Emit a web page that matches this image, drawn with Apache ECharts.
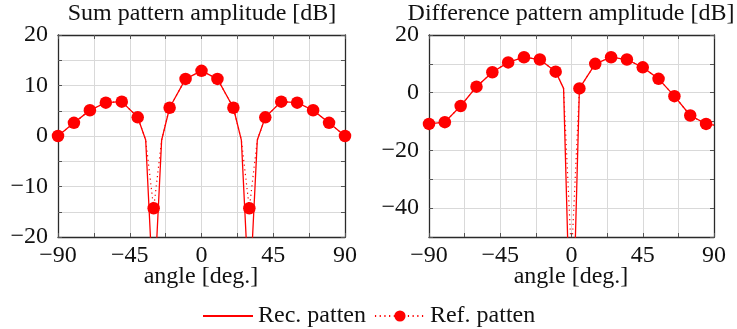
<!DOCTYPE html>
<html>
<head>
<meta charset="utf-8">
<script src="https://cdn.jsdelivr.net/npm/echarts@6/dist/echarts.min.js"></script>
<style>
html,body{margin:0;padding:0;background:#fff;}
#chart{width:737px;height:329px;}
</style>
</head>
<body>
<div id="chart"></div>
<script>
// ---- data ----
const sumAngle = [-90,-80,-70,-60,-50,-40,-35,-30,-25,-20,-10,0,10,20,25,30,35,40,50,60,70,80,90];
const sumRec   = [0,2.6,5.1,6.6,6.8,3.7,-0.8,-33,-0.8,5.6,11.3,12.9,11.3,5.6,-0.8,-33,-0.8,3.7,6.8,6.6,5.1,2.6,0];
const sumRef   = [0,2.6,5.1,6.6,6.8,3.7,-0.8,-14.3,-0.8,5.6,11.3,12.9,11.3,5.6,-0.8,-14.3,-0.8,3.7,6.8,6.6,5.1,2.6,0];
const sumMarkAngles = [-90,-80,-70,-60,-50,-40,-30,-20,-10,0,10,20,30,40,50,60,70,80,90];

const diffAngle = [-90,-80,-70,-60,-50,-40,-30,-20,-10,-5,0,5,15,25,35,45,55,65,75,85,90];
const diffRec   = [-10.8,-10.2,-4.6,2.1,7.1,10.5,12.3,11.5,7.3,1.5,-100,1.5,10.0,12.3,11.5,8.8,4.8,-1.2,-7.9,-10.8,-11.2];
const diffRef   = [-10.8,-10.2,-4.6,2.1,7.1,10.5,12.3,11.5,7.3,1.5,-57,1.5,10.0,12.3,11.5,8.8,4.8,-1.2,-7.9,-10.8,-11.2];
const diffMarkAngles = [-90,-80,-70,-60,-50,-40,-30,-20,-10,5,15,25,35,45,55,65,75,85];

const xTickLabels = [-90,-45,0,45,90];
const sumYTickLabels = [-20,-10,0,10,20];
const diffYTickLabels = [-40,-20,0,20];

const titles = ['Sum pattern amplitude [dB]','Difference pattern amplitude [dB]'];
const xName = 'angle [deg.]';
const legendNames = ['Rec. patten','Ref. patten'];

// ---- build ----
const FONT = 'Liberation Serif';
const RED = '#ff0000';
const fmt = v => String(v).replace('-', '\u2212');

function pairs(xs, ys){ return xs.map((x,i)=>[x, ys[i]]); }
function refData(xs, ys, marks){
  return xs.map((x,i)=>{
    const item = {value:[x, ys[i]]};
    if (marks.indexOf(x) < 0) item.symbol = 'none';
    return item;
  });
}

const grids = [
  {left:58, top:35, width:287, height:202},
  {left:429, top:35, width:285, height:202}
];

function xAxis(gi){
  return {
    type:'value', gridIndex:gi, min:-90, max:90, interval:22.5,
    axisLine:{show:true, onZero:false, lineStyle:{color:'#2a2a2a', width:1.3}},
    axisTick:{show:true, inside:true, length:4, lineStyle:{color:'#555'}},
    splitLine:{show:true, lineStyle:{color:'#d9d9d9', width:1}},
    axisLabel:{
      margin:7, color:'#111', fontFamily:FONT, fontSize:24,
      formatter: v => xTickLabels.indexOf(v) >= 0 ? fmt(v) : ''
    }
  };
}
function yAxis(gi, min, max, interval, labels){
  return {
    type:'value', gridIndex:gi, min:min, max:max, interval:interval,
    axisLine:{show:true, onZero:false, lineStyle:{color:'#2a2a2a', width:1.3}},
    axisTick:{show:true, inside:true, length:4, lineStyle:{color:'#555'}},
    splitLine:{show:true, lineStyle:{color:'#d9d9d9', width:1}},
    axisLabel:{
      margin:10, color:'#111', fontFamily:FONT, fontSize:24,
      formatter: v => labels.indexOf(v) >= 0 ? fmt(v) : ''
    }
  };
}
// top / right frame axes
function frameX(gi){
  return {type:'value', gridIndex:gi, min:-90, max:90, interval:22.5, position:'top',
    axisLine:{show:true, onZero:false, lineStyle:{color:'#2a2a2a', width:1.3}},
    axisTick:{show:true, inside:true, length:4, lineStyle:{color:'#555'}},
    axisLabel:{show:false}, splitLine:{show:false}};
}
function frameY(gi, min, max, interval){
  return {type:'value', gridIndex:gi, min:min, max:max, interval:interval, position:'right',
    axisLine:{show:true, onZero:false, lineStyle:{color:'#2a2a2a', width:1.3}},
    axisTick:{show:true, inside:true, length:4, lineStyle:{color:'#555'}},
    axisLabel:{show:false}, splitLine:{show:false}};
}

function refSeries(xi, yi, data){
  return {
    name: legendNames[1], type:'line', xAxisIndex:xi, yAxisIndex:yi,
    data:data, symbol:'circle', symbolSize:12.5, showSymbol:true, showAllSymbol:true,
    lineStyle:{color:RED, width:1.2, type:[1.2,3.5]}, itemStyle:{color:RED},
    clip:true, silent:true, z:2
  };
}
function recSeries(xi, yi, data){
  return {
    name: legendNames[0], type:'line', xAxisIndex:xi, yAxisIndex:yi,
    data:data, symbol:'none', showSymbol:false,
    lineStyle:{color:RED, width:1.3}, itemStyle:{color:RED},
    clip:true, silent:true, z:3
  };
}

const option = {
  animation:false,
  backgroundColor:'#fff',
  grid: grids,
  xAxis: [xAxis(0), xAxis(1), frameX(0), frameX(1)],
  yAxis: [yAxis(0,-20,20,5,sumYTickLabels), yAxis(1,-50,20,10,diffYTickLabels), frameY(0,-20,20,5), frameY(1,-50,20,10)],
  legend:{
    left:197, top:299, itemWidth:50, itemHeight:14, itemGap:8,
    data:[
      {name:legendNames[0], itemStyle:{color:'rgba(0,0,0,0)', borderWidth:0}},
      {name:legendNames[1]}
    ],
    textStyle:{fontFamily:FONT, fontSize:24, color:'#111'},
    selectedMode:false
  },
  series:[
    refSeries(0,0, refData(sumAngle, sumRef, sumMarkAngles)),
    recSeries(0,0, pairs(sumAngle, sumRec)),
    refSeries(1,1, refData(diffAngle, diffRef, diffMarkAngles)),
    recSeries(1,1, pairs(diffAngle, diffRec))
  ],
  graphic:[
    {type:'text', x:202, y:14, style:{text:titles[0], font:'24px "Liberation Serif"', fill:'#111', textAlign:'center', textVerticalAlign:'middle'}},
    {type:'text', x:571, y:14, style:{text:titles[1], font:'24px "Liberation Serif"', fill:'#111', textAlign:'center', textVerticalAlign:'middle'}},
    {type:'text', x:201, y:277, style:{text:xName, font:'24px "Liberation Serif"', fill:'#111', textAlign:'center', textVerticalAlign:'middle'}},
    {type:'text', x:571, y:277, style:{text:xName, font:'24px "Liberation Serif"', fill:'#111', textAlign:'center', textVerticalAlign:'middle'}}
  ]
};

const chart = echarts.init(document.getElementById('chart'), null, {renderer:'canvas'});
chart.setOption(option);
</script>
</body>
</html>
